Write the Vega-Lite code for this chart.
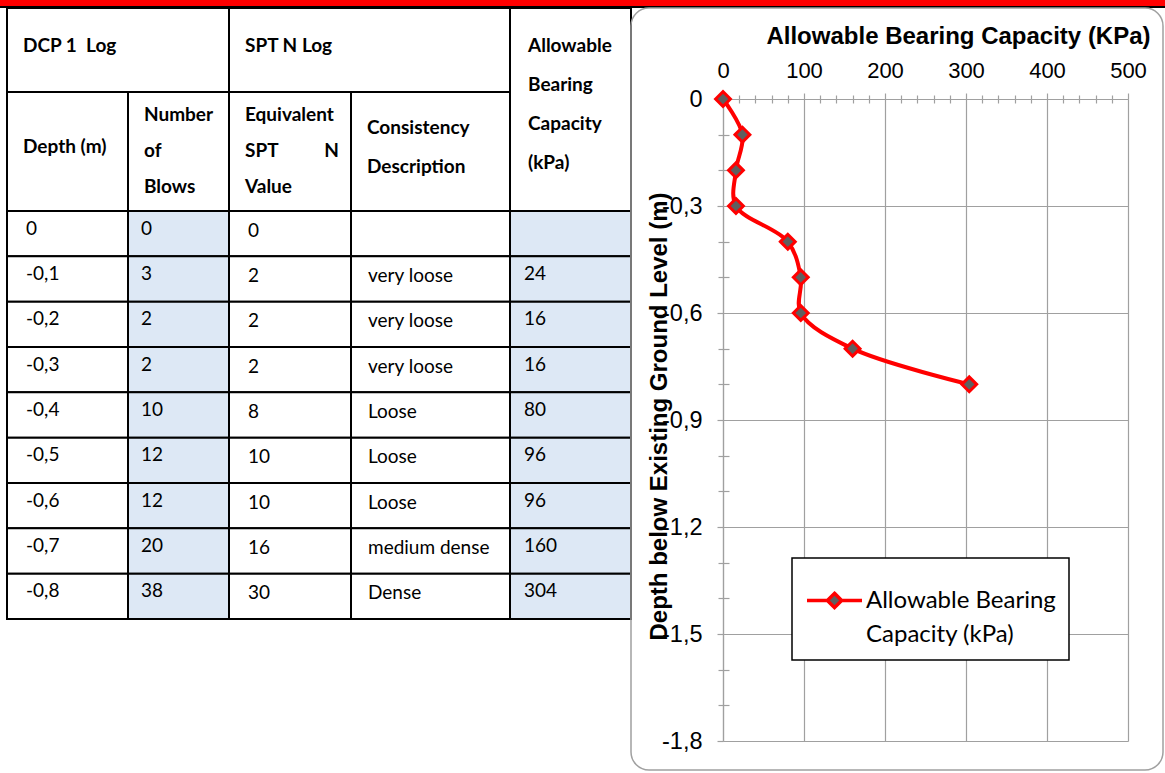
{
  "$schema": "https://vega.github.io/schema/vega-lite/v6.json",
  "padding": 0,
  "background": "#ffffff",
  "config": {
    "view": {"stroke": null},
    "font": "Liberation Sans",
    "legend": {"strokeWidth": 1.5},
    "style": {"guide-label": {"lineHeight": 34}}
  },
  "datasets": {
    "log": [
      {"depthLabel": "0", "depth": 0, "blows": 0, "spt": 0, "consistency": "", "capacity": 0},
      {"depthLabel": "-0,1", "depth": -0.1, "blows": 3, "spt": 2, "consistency": "very loose", "capacity": 24},
      {"depthLabel": "-0,2", "depth": -0.2, "blows": 2, "spt": 2, "consistency": "very loose", "capacity": 16},
      {"depthLabel": "-0,3", "depth": -0.3, "blows": 2, "spt": 2, "consistency": "very loose", "capacity": 16},
      {"depthLabel": "-0,4", "depth": -0.4, "blows": 10, "spt": 8, "consistency": "Loose", "capacity": 80},
      {"depthLabel": "-0,5", "depth": -0.5, "blows": 12, "spt": 10, "consistency": "Loose", "capacity": 96},
      {"depthLabel": "-0,6", "depth": -0.6, "blows": 12, "spt": 10, "consistency": "Loose", "capacity": 96},
      {"depthLabel": "-0,7", "depth": -0.7, "blows": 20, "spt": 16, "consistency": "medium dense", "capacity": 160},
      {"depthLabel": "-0,8", "depth": -0.8, "blows": 38, "spt": 30, "consistency": "Dense", "capacity": 304}
    ],
    "header": [
      {"c0": 0, "c1": 2, "r0": 0, "r1": 1, "mid": 0.5, "lines": ["DCP 1\u00a0 Log"]},
      {"c0": 2, "c1": 4, "r0": 0, "r1": 1, "mid": 0.5, "lines": ["SPT N Log"]},
      {"c0": 4, "c1": 5, "r0": 0, "r1": 2, "mid": 1, "lines": ["Allowable", "Bearing", "Capacity", "(kPa)"]},
      {"c0": 0, "c1": 1, "r0": 1, "r1": 2, "mid": 1.5, "lines": ["Depth (m)"]},
      {"c0": 1, "c1": 2, "r0": 1, "r1": 2, "mid": 1.5, "lines": ["Number", "of", "Blows"]},
      {"c0": 2, "c1": 3, "r0": 1, "r1": 2, "mid": 1.5, "lines": ["Equivalent", "SPT\u00a0\u00a0\u00a0\u00a0\u00a0\u00a0\u00a0\u00a0\u00a0\u00a0N", "Value"]},
      {"c0": 3, "c1": 4, "r0": 1, "r1": 2, "mid": 1.5, "lines": ["Consistency", "Description"]}
    ]
  },
  "spacing": 0,
  "bounds": "flush",
  "resolve": {"scale": {"x": "independent", "y": "independent"}},
  "vconcat": [
    {
      "width": 1165,
      "height": 8,
      "view": {"fill": "#000000", "stroke": null},
      "data": {"values": [{"part": "top band"}]},
      "mark": {"type": "rect", "color": "#ff0000"},
      "encoding": {
        "x": {"datum": 0, "type": "quantitative", "scale": {"domain": [0, 1], "nice": false, "zero": false}, "axis": null},
        "x2": {"datum": 1},
        "y": {"datum": 0.25, "type": "quantitative", "scale": {"domain": [0, 1], "nice": false, "zero": false}, "axis": null},
        "y2": {"datum": 1}
      }
    },
    {
      "spacing": 0,
      "bounds": "flush",
      "resolve": {"scale": {"x": "independent", "y": "independent"}},
      "hconcat": [
        {
          "width": 631,
          "height": 611,
          "resolve": {"scale": {"y": "independent"}},
          "layer": [
            {
              "data": {"name": "header"},
              "resolve": {"scale": {"y": "independent"}},
              "layer": [
                {
                  "mark": {"type": "rect", "fill": "#ffffff", "stroke": "#000000", "strokeWidth": 2},
                  "encoding": {
                    "x": {"field": "c0", "type": "quantitative", "scale": {"domain": [0, 1, 2, 3, 4, 5], "range": [7, 128, 229, 351, 510, 631], "nice": false, "zero": false}, "axis": null},
                    "x2": {"field": "c1"},
                    "y": {"field": "r0", "type": "quantitative", "scale": {"domain": [0, 1, 2], "range": [0, 84, 203], "nice": false, "zero": false}, "axis": null},
                    "y2": {"field": "r1"}
                  }
                },
                {
                  "encoding": {
                    "x": {"field": "c0", "type": "quantitative", "scale": {"domain": [0, 1, 2, 3, 4, 5], "range": [7, 128, 229, 351, 510, 631], "nice": false, "zero": false}, "axis": null},
                    "y": {"field": "mid", "type": "quantitative", "scale": {"domain": [0.5, 1.5], "range": [42, 143.5], "nice": false, "zero": false}, "axis": null},
                    "text": {"field": "lines"}
                  },
                  "layer": [
                    {"transform": [{"filter": "length(datum.lines) === 1"}],
                     "mark": {"type": "text", "align": "left", "baseline": "middle", "dx": 16, "dy": -4.5, "font": "Lato", "fontSize": 19, "fontWeight": "bold", "lineHeight": 38, "color": "#000000"}},
                    {"transform": [{"filter": "length(datum.lines) === 2"}],
                     "mark": {"type": "text", "align": "left", "baseline": "middle", "dx": 16, "dy": -23.5, "font": "Lato", "fontSize": 19, "fontWeight": "bold", "lineHeight": 38.5, "color": "#000000"}},
                    {"transform": [{"filter": "length(datum.lines) === 3"}],
                     "mark": {"type": "text", "align": "left", "baseline": "middle", "dx": 16, "dy": -36.5, "font": "Lato", "fontSize": 19, "fontWeight": "bold", "lineHeight": 36, "color": "#000000"}},
                    {"transform": [{"filter": "length(datum.lines) === 4"}],
                     "mark": {"type": "text", "align": "left", "baseline": "middle", "dx": 18, "dy": -55, "font": "Lato", "fontSize": 19, "fontWeight": "bold", "lineHeight": 39, "color": "#000000"}}
                  ]
                }
              ]
            },
            {
              "data": {"name": "log"},
              "encoding": {
                "y": {"field": "depth", "type": "ordinal", "sort": "descending", "scale": {"range": [203, 611], "paddingInner": 0, "paddingOuter": 0}, "axis": null}
              },
              "layer": [
                {"mark": {"type": "rect", "fill": "#ffffff", "stroke": "#000000", "strokeWidth": 2},
                 "encoding": {"x": {"datum": 0, "type": "quantitative", "scale": {"domain": [0, 1, 2, 3, 4, 5], "range": [7, 128, 229, 351, 510, 631], "nice": false, "zero": false}, "axis": null}, "x2": {"datum": 1}}},
                {"mark": {"type": "rect", "fill": "#dde8f5", "stroke": "#000000", "strokeWidth": 2},
                 "encoding": {"x": {"datum": 1, "type": "quantitative"}, "x2": {"datum": 2}}},
                {"mark": {"type": "rect", "fill": "#ffffff", "stroke": "#000000", "strokeWidth": 2},
                 "encoding": {"x": {"datum": 2, "type": "quantitative"}, "x2": {"datum": 3}}},
                {"mark": {"type": "rect", "fill": "#ffffff", "stroke": "#000000", "strokeWidth": 2},
                 "encoding": {"x": {"datum": 3, "type": "quantitative"}, "x2": {"datum": 4}}},
                {"mark": {"type": "rect", "fill": "#dde8f5", "stroke": "#000000", "strokeWidth": 2},
                 "encoding": {"x": {"datum": 4, "type": "quantitative"}, "x2": {"datum": 5}}},
                {"mark": {"type": "text", "align": "left", "baseline": "middle", "dx": 19, "dy": -5, "font": "Lato", "fontSize": 19, "color": "#000000"},
                 "encoding": {"x": {"datum": 0, "type": "quantitative"}, "text": {"field": "depthLabel"}}},
                {"mark": {"type": "text", "align": "left", "baseline": "middle", "dx": 13, "dy": -5, "font": "Lato", "fontSize": 19, "color": "#000000"},
                 "encoding": {"x": {"datum": 1, "type": "quantitative"}, "text": {"field": "blows", "type": "quantitative", "format": "d"}}},
                {"mark": {"type": "text", "align": "left", "baseline": "middle", "dx": 19, "dy": -3, "font": "Lato", "fontSize": 19, "color": "#000000"},
                 "encoding": {"x": {"datum": 2, "type": "quantitative"}, "text": {"field": "spt", "type": "quantitative", "format": "d"}}},
                {"mark": {"type": "text", "align": "left", "baseline": "middle", "dx": 17, "dy": -3, "font": "Lato", "fontSize": 19, "color": "#000000"},
                 "encoding": {"x": {"datum": 3, "type": "quantitative"}, "text": {"field": "consistency"}}},
                {"mark": {"type": "text", "align": "left", "baseline": "middle", "dx": 14, "dy": -5, "font": "Lato", "fontSize": 19, "color": "#000000"},
                 "encoding": {"x": {"datum": 4, "type": "quantitative"}, "text": {"condition": {"test": "datum.capacity === 0", "value": ""}, "field": "capacity", "type": "quantitative", "format": "d"}}}
              ]
            }
          ]
        },
        {
          "width": 532,
          "height": 762,
          "view": {"stroke": "#a0a0a0", "strokeWidth": 1.5, "cornerRadius": 18, "fill": null},
          "data": {"name": "log"},
          "resolve": {"axis": {"x": "independent", "y": "independent"}},
          "layer": [
            {
              "mark": {"type": "line", "color": "#ff0000", "strokeWidth": 4, "interpolate": "catmull-rom"},
              "encoding": {
                "order": {"field": "depth", "sort": "descending"},
                "x": {
                  "field": "capacity", "type": "quantitative",
                  "scale": {"domain": [0, 500], "range": [92, 497], "nice": false, "zero": false},
                  "axis": {
                    "orient": "top", "offset": -91, "values": [0, 100, 200, 300, 400, 500], "format": "d",
                    "grid": true, "gridColor": "#a0a0a0", "gridWidth": 1.2,
                    "domainColor": "#a0a0a0", "domainWidth": 1.2,
                    "tickColor": "#a0a0a0", "tickWidth": 1.2, "tickSize": 6,
                    "labelFont": "Liberation Sans", "labelFontSize": 22, "labelColor": "#000000", "labelPadding": 11, "labelFlush": false, "labelOverlap": false,
                    "title": "Allowable Bearing Capacity (KPa)", "titleFont": "Liberation Sans", "titleFontSize": 24, "titleFontWeight": "bold", "titleColor": "#000000",
                    "titleX": 327, "titleY": -56, "titleAlign": "center", "titleBaseline": "alphabetic", "zindex": 0
                  }
                },
                "y": {
                  "field": "depth", "type": "quantitative",
                  "scale": {"domain": [-1.8, 0], "range": [733, 91], "nice": false, "zero": false},
                  "axis": {
                    "orient": "left", "offset": -92, "values": [0, -0.3, -0.6, -0.9, -1.2, -1.5, -1.8],
                    "labelExpr": "datum.value === 0 ? '0' : '-' + replace(format(abs(datum.value), '.1f'), '.', ',')",
                    "grid": true, "gridColor": "#a0a0a0", "gridWidth": 1.2,
                    "domainColor": "#a0a0a0", "domainWidth": 1.2,
                    "tickColor": "#a0a0a0", "tickWidth": 1.2, "tickSize": 6,
                    "labelFont": "Liberation Sans", "labelFontSize": 23.5, "labelColor": "#000000", "labelPadding": 15, "labelFlush": false, "labelOverlap": false,
                    "title": "Depth below Existing Ground Level (m)", "titleFont": "Liberation Sans", "titleFontSize": 24, "titleFontWeight": "bold", "titleColor": "#000000",
                    "titleX": -57, "titleY": 408, "titleAngle": -90, "titleAlign": "center", "titleBaseline": "alphabetic", "zindex": 0
                  }
                }
              }
            },
            {
              "mark": {"type": "point", "shape": "diamond", "filled": true, "fill": "#5f5f5f", "size": 220, "strokeWidth": 3, "opacity": 1},
              "encoding": {
                "x": {
                  "field": "capacity", "type": "quantitative",
                  "axis": {
                    "orient": "top", "offset": -95, "values": [20, 40, 60, 80, 120, 140, 160, 180, 220, 240, 260, 280, 320, 340, 360, 380, 420, 440, 460, 480],
                    "grid": false, "domain": false, "labels": false, "title": null,
                    "tickColor": "#a0a0a0", "tickWidth": 1.2, "tickSize": 8, "zindex": 0
                  }
                },
                "y": {
                  "field": "depth", "type": "quantitative",
                  "axis": {
                    "orient": "left", "offset": -98, "values": [-0.1, -0.2, -0.4, -0.5, -0.7, -0.8, -1.0, -1.1, -1.3, -1.4, -1.6, -1.7],
                    "grid": false, "domain": false, "labels": false, "title": null,
                    "tickColor": "#a0a0a0", "tickWidth": 1.2, "tickSize": 11, "zindex": 0
                  }
                },
                "stroke": {
                  "datum": "Allowable Bearing Capacity (kPa)",
                  "scale": {"range": ["#ff0000"]},
                  "legend": {
                    "title": null, "orient": "none", "legendX": 792, "legendY": 558, "direction": "vertical",
                    "fillColor": "#ffffff", "strokeColor": "#000000", "padding": 13,
                    "symbolType": "M-1,0L-0.26,0M0.26,0L1,0M0,-0.26L0.26,0L0,0.26L-0.26,0Z",
                    "symbolSize": 3025, "symbolStrokeWidth": 3.5, "symbolFillColor": "#5f5f5f",
                    "labelExpr": "['Allowable Bearing', 'Capacity (kPa)']",
                    "labelFont": "Lato", "labelFontSize": 24, "labelColor": "#000000", "labelLimit": 0, "labelOffset": 2, "labelBaseline": "middle",
                    "encode": {
                      "labels": {"lineHeight": {"value": 34}}
                    }
                  }
                }
              }
            }
          ]
        }
      ]
    }
  ]
}
